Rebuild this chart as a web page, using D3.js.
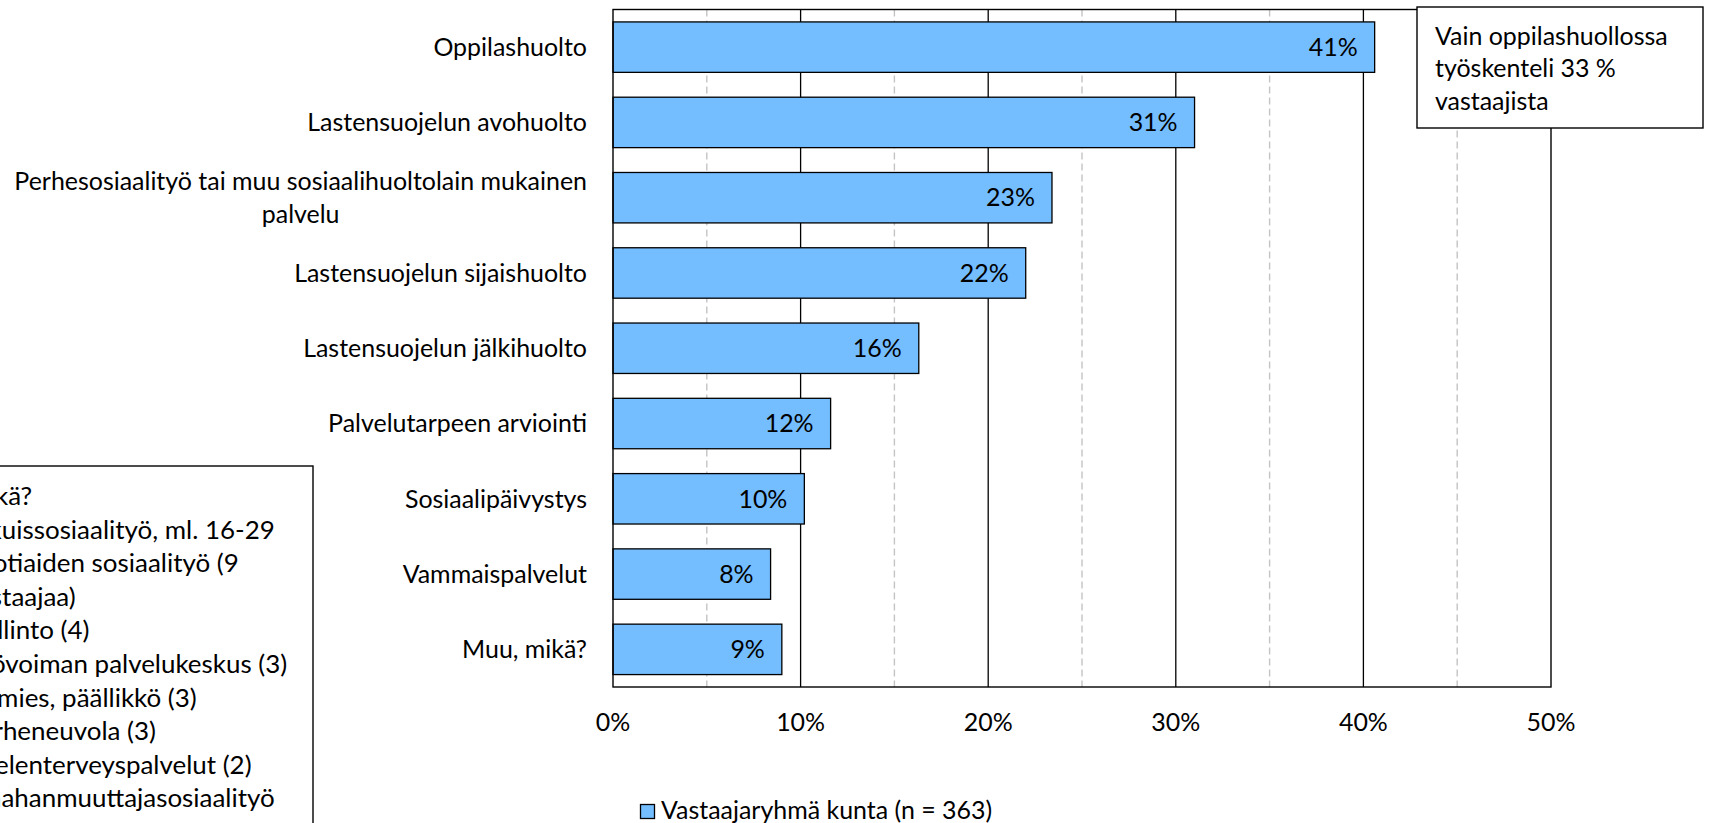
<!DOCTYPE html>
<html>
<head>
<meta charset="utf-8">
<script src="https://cdn.jsdelivr.net/npm/d3@7"></script>
<style>
  html, body { margin: 0; padding: 0; background: #fff; overflow: hidden; }
  svg { display: block; }
  text { font-family: Lato, "Open Sans", sans-serif; fill: #000; }
</style>
</head>
<body>
<svg id="chart" width="1712" height="823"></svg>
<script>
// ---- data ----
const categories = [
  "Oppilashuolto",
  "Lastensuojelun avohuolto",
  "Perhesosiaalityö tai muu sosiaalihuoltolain mukainen palvelu",
  "Lastensuojelun sijaishuolto",
  "Lastensuojelun jälkihuolto",
  "Palvelutarpeen arviointi",
  "Sosiaalipäivystys",
  "Vammaispalvelut",
  "Muu, mikä?"
];
const values = [40.6, 31.0, 23.4, 22.0, 16.3, 11.6, 10.2, 8.4, 9.0];
const majorTicks = [0, 10, 20, 30, 40, 50];
const minorTicks = [5, 15, 25, 35, 45];
const seriesName = "Vastaajaryhmä kunta (n = 363)";
const noteLines = ["Vain oppilashuollossa", "työskenteli 33 %", "vastaajista"];
const otherLines = [
  "Mikä?",
  "Aikuissosiaalityö, ml. 16-29",
  "vuotiaiden sosiaalityö (9",
  "vastaajaa)",
  "Hallinto (4)",
  "Työvoiman palvelukeskus (3)",
  "Esimies, päällikkö (3)",
  "Perheneuvola (3)",
  "Mielenterveyspalvelut (2)",
  "Maahanmuuttajasosiaalityö"
];

// ---- setup ----
const svg = d3.select("#chart");
const BAR = "#74BDFF";
const INK = "#000";

// fit the substitute font so text widths match the original
const probe = svg.append("text").attr("font-size", 100).text("Perhesosiaalityö tai muu sosiaalihuoltolain mukainen");
const FS = 100 * 573 / probe.node().getComputedTextLength();
probe.remove();
function measure(s, fs) {
  const t = svg.append("text").attr("font-size", fs || FS).text(s);
  const w = t.node().getComputedTextLength();
  t.remove();
  return w;
}

const x = d3.scaleLinear().domain([0, 50]).range([613, 1551]);
const y = d3.scaleBand().domain(categories).range([9.5, 687]).paddingInner(0.33).paddingOuter(0.165);
const [y0, y1] = [9.5, 687];

// minor dashed gridlines
svg.append("g").selectAll("line").data(minorTicks).join("line")
  .attr("x1", d => x(d)).attr("x2", d => x(d)).attr("y1", y0).attr("y2", y1)
  .attr("stroke", "#c4c4c4").attr("stroke-width", 1.4).attr("stroke-dasharray", "7,4");

// major gridlines
svg.append("g").selectAll("line").data(majorTicks.slice(1, -1)).join("line")
  .attr("x1", d => x(d)).attr("x2", d => x(d)).attr("y1", y0).attr("y2", y1)
  .attr("stroke", INK).attr("stroke-width", 1.3);

// bars
svg.append("g").selectAll("rect").data(categories).join("rect")
  .attr("x", x(0)).attr("y", d => y(d))
  .attr("width", (d, i) => x(values[i]) - x(0)).attr("height", y.bandwidth())
  .attr("fill", BAR).attr("stroke", INK).attr("stroke-width", 1.3);

// plot border
svg.append("rect").attr("x", x(0)).attr("y", y0).attr("width", x(50) - x(0)).attr("height", y1 - y0)
  .attr("fill", "none").attr("stroke", INK).attr("stroke-width", 1.4);

// value labels
svg.append("g").selectAll("text").data(categories).join("text")
  .attr("x", (d, i) => x(values[i]) - 17).attr("y", d => y(d) + y.bandwidth() / 2)
  .attr("dy", "0.35em").attr("text-anchor", "end").attr("font-size", FS)
  .text((d, i) => Math.round(values[i]) + "%");

// category labels (wrapped, centred lines, block right aligned)
const labelRight = 587, maxW = 585, lineH = 32.5;
categories.forEach(c => {
  const words = c.split(" ");
  const lines = [];
  let cur = "";
  words.forEach(w => {
    const t = cur ? cur + " " + w : w;
    if (measure(t) > maxW && cur) { lines.push(cur); cur = w; } else cur = t;
  });
  lines.push(cur);
  const cy = y(c) + y.bandwidth() / 2;
  const t = svg.append("text").attr("font-size", FS);
  if (lines.length === 1) {
    t.attr("x", labelRight).attr("y", cy).attr("dy", "0.35em").attr("text-anchor", "end").text(lines[0]);
  } else {
    const bw = d3.max(lines, l => measure(l));
    const cx = labelRight - bw / 2;
    t.attr("text-anchor", "middle");
    lines.forEach((l, k) => {
      t.append("tspan").attr("x", cx).attr("y", cy + (k - (lines.length - 1) / 2) * lineH)
        .attr("dy", "0.35em").text(l);
    });
  }
});

// x tick labels
svg.append("g").selectAll("text").data(majorTicks).join("text")
  .attr("x", d => x(d)).attr("y", 722).attr("dy", "0.35em").attr("text-anchor", "middle")
  .attr("font-size", FS).text(d => d + "%");

// legend
svg.append("rect").attr("x", 640.5).attr("y", 804.5).attr("width", 14).attr("height", 14)
  .attr("fill", BAR).attr("stroke", INK).attr("stroke-width", 1.3);
svg.append("text").attr("x", 661).attr("y", 810).attr("dy", "0.35em").attr("font-size", FS).text(seriesName);

// note box (top right)
svg.append("rect").attr("x", 1417).attr("y", 7).attr("width", 286).attr("height", 121)
  .attr("fill", "#fff").attr("stroke", INK).attr("stroke-width", 1.4);
svg.append("g").selectAll("text").data(noteLines).join("text")
  .attr("x", 1435).attr("y", (d, i) => 36 + i * 32.5).attr("dy", "0.35em").attr("font-size", FS).text(d => d);

// "other" box (bottom left, partly outside view)
const FS2 = FS * 1.04;
svg.append("rect").attr("x", -40).attr("y", 466).attr("width", 353).attr("height", 420)
  .attr("fill", "#fff").attr("stroke", INK).attr("stroke-width", 1.4);
const otherX = -5 - measure("Mi", FS2);
svg.append("g").selectAll("text").data(otherLines).join("text")
  .attr("x", otherX).attr("y", (d, i) => 496 + i * 33.6).attr("dy", "0.35em").attr("font-size", FS2).text(d => d);
</script>
</body>
</html>
